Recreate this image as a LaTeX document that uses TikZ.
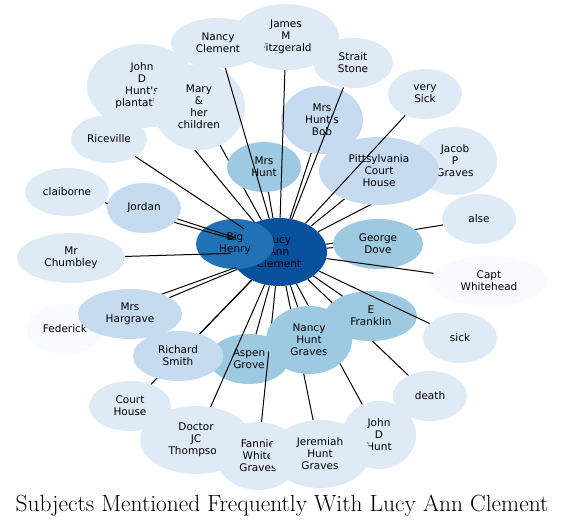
\documentclass[tikz,border=0pt]{standalone}
\usepackage{fontspec}
\newfontfamily\labelfont{DejaVu Sans}
\usetikzlibrary{shapes.geometric}
\definecolor{deepblue}{HTML}{08519C}
\definecolor{strongblue}{HTML}{2171B5}
\definecolor{midblue}{HTML}{9ECAE1}
\definecolor{paleblue}{HTML}{C6DBEF}
\definecolor{mistblue}{HTML}{DEEBF7}
\definecolor{iceblue}{HTML}{F7FBFF}

\begin{document}
\begin{tikzpicture}[x=1pt, y=-1pt, every node/.style={ellipse,inner sep=0pt,align=center,font=\labelfont\fontsize{10.5}{12}\selectfont}, blob/.style 2 args={minimum width=#1pt,minimum height=#2pt}, link/.style={line width=1pt}]
    \fill[white] (0,0) rectangle (565,527);
    \useasboundingbox (0,0) rectangle (565,527);
    \node (lucy) [blob={96}{68}, fill=deepblue] at (279,252) {Lucy\\Ann\\Clement};
    \node (henry) [blob={78}{50}, fill=strongblue] at (235,244) {Big\\Henry};
    \node (plant) [blob={110}{84}, fill=mistblue] at (142,86) {John\\D\\Hunt's\\plantation}; \draw[link] (plant) -- (lucy);
    \node (rice) [blob={76}{48}, fill=mistblue] at (109,139) {Riceville}; \draw[link] (rice) -- (lucy);
    \node (mary) [blob={92}{86}, fill=mistblue] at (199,107) {Mary\\\&\\her\\children}; \draw[link] (mary) -- (lucy);
    \node (mrshunt) [blob={74}{50}, fill=midblue] at (264,167) {Mrs\\Hunt}; \draw[link] (mrshunt) -- (lucy);
    \node (bob) [blob={82}{68}, fill=paleblue] at (322,120) {Mrs\\Hunt's\\Bob}; \draw[link] (bob) -- (lucy);
    \node (strait) [blob={80}{50}, fill=mistblue] at (353,63) {Strait\\Stone}; \draw[link] (strait) -- (lucy);
    \node (james) [blob={106}{66}, fill=mistblue] at (286,37) {James\\M\\Fitzgerald}; \draw[link] (james) -- (lucy);
    \node (nclem) [blob={94}{50}, fill=mistblue] at (218,43) {Nancy\\Clement}; \draw[link] (nclem) -- (lucy);
    \node (jacob) [blob={84}{68}, fill=mistblue] at (455,161) {Jacob\\P\\Graves}; \draw[link] (jacob) -- (lucy);
    \node (pitt) [blob={120}{68}, fill=paleblue] at (379,171) {Pittsylvania\\Court\\House}; \draw[link] (pitt) -- (lucy);
    \node (vsick) [blob={74}{50}, fill=mistblue] at (425,94) {very\\Sick}; \draw[link] (vsick) -- (lucy);
    \node (alse) [blob={74}{50}, fill=mistblue] at (479,219) {alse}; \draw[link] (alse) -- (lucy);
    \node (george) [blob={90}{50}, fill=midblue] at (378,244) {George\\Dove}; \draw[link] (george) -- (lucy);
    \node (capt) [blob={116}{50}, fill=iceblue] at (489,281) {Capt\\Whitehead}; \draw[link] (capt) -- (lucy);
    \node (death) [blob={74}{50}, fill=mistblue] at (430,396) {death}; \draw[link] (death) -- (lucy);
    \node (frank) [blob={92}{50}, fill=midblue] at (371,316) {E\\Franklin}; \draw[link] (frank) -- (lucy);
    \node (sick) [blob={74}{50}, fill=mistblue] at (460,338) {sick}; \draw[link] (sick) -- (lucy);
    \node (jdh) [blob={74}{68}, fill=mistblue] at (379,435) {John\\D\\Hunt}; \draw[link] (jdh) -- (lucy);
    \node (aspen) [blob={80}{50}, fill=midblue] at (249,359) {Aspen\\Grove}; \draw[link] (aspen) -- (lucy);
    \node (court) [blob={82}{50}, fill=mistblue] at (130,406) {Court\\House}; \draw[link] (court) -- (lucy);
    \node (rich) [blob={90}{50}, fill=paleblue] at (178,356) {Richard\\Smith}; \draw[link] (rich) -- (lucy);
    \node (doc) [blob={112}{68}, fill=mistblue] at (196,440) {Doctor\\JC\\Thompson}; \draw[link] (doc) -- (lucy);
    \node (fannie) [blob={84}{68}, fill=mistblue] at (258,456) {Fannie\\White\\Graves}; \draw[link] (fannie) -- (lucy);
    \node (jere) [blob={100}{68}, fill=mistblue] at (320,454) {Jeremiah\\Hunt\\Graves}; \draw[link] (jere) -- (lucy);
    \node (nhg) [blob={86}{68}, fill=midblue] at (309,340) {Nancy\\Hunt\\Graves}; \draw[link] (nhg) -- (lucy);
    \node (clai) [blob={84}{48}, fill=mistblue] at (67,192) {claiborne}; \draw[link] (clai) -- (lucy);
    \node (jordan) [blob={74}{50}, fill=paleblue] at (144,208) {Jordan}; \draw[link] (jordan) -- (lucy);
    \node (chum) [blob={108}{50}, fill=mistblue] at (71,258) {Mr\\Chumbley}; \draw[link] (chum) -- (lucy);
    \node (fed) [blob={76}{50}, fill=iceblue] at (65,329) {Federick}; \draw[link] (fed) -- (lucy);
    \node (harg) [blob={104}{50}, fill=paleblue] at (130,314) {Mrs\\Hargrave}; \draw[link] (harg) -- (lucy);
    \node (title) [rectangle, anchor=base, font=\rmfamily\fontsize{23.4}{27}\selectfont] at (282,511.5) {Subjects Mentioned Frequently With Lucy Ann Clement};
  \end{tikzpicture}
\end{document}
